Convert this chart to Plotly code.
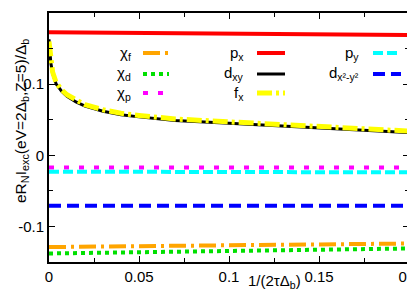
import plotly.graph_objects as go

# ---- data ----
x_curve = [0, 0.001, 0.002, 0.004, 0.007, 0.01, 0.015, 0.02, 0.03, 0.04, 0.05, 0.07, 0.1, 0.13, 0.16, 0.2]
dxy_vals = [0.163, 0.13, 0.115, 0.1, 0.09, 0.083, 0.075, 0.069, 0.062, 0.057, 0.054, 0.049, 0.045, 0.041, 0.037, 0.032]
fx_vals = [0.16, 0.132, 0.117, 0.102, 0.092, 0.085, 0.077, 0.071, 0.064, 0.059, 0.056, 0.051, 0.047, 0.043, 0.039, 0.034]
x_flat = [0, 0.2]
px_vals = [0.173, 0.169]
chi_f_vals = [-0.129, -0.124]
chi_d_vals = [-0.138, -0.131]
chi_p_vals = [-0.017, -0.017]
py_vals = [-0.023, -0.024]
dx2y2_vals = [-0.071, -0.071]

x_ticks = [0, 0.05, 0.1, 0.15, 0.2]
x_ticklabels = ["0", "0.05", "0.1", "0.15", "0.2"]
y_ticks = [-0.1, 0, 0.1, 0.2]
y_ticklabels = ["-0.1", "0", "0.1", "0.2"]

series = [
    ("χ<sub>f</sub>", "#FFA500", "17px,5px,3px,5px", 4, chi_f_vals, x_flat),
    ("χ<sub>d</sub>", "#00E000", "4px,4px", 4, chi_d_vals, x_flat),
    ("χ<sub>p</sub>", "#FF00FF", "5px,10px", 4, chi_p_vals, x_flat),
    ("p<sub>x</sub>", "#FF0000", "solid", 4, px_vals, x_flat),
    ("d<sub>xy</sub>", "#000000", "solid", 3, dxy_vals, x_curve),
    ("f<sub>x</sub>", "#FFFF00", "15px,4px,3px,4px", 5, fx_vals, x_curve),
    ("p<sub>y</sub>", "#00FFFF", "10px,4px", 4, py_vals, x_flat),
    ("d<sub>x²-y²</sub>", "#0000FF", "12px,6px", 4, dx2y2_vals, x_flat),
]

fig = go.Figure()
draw_order = [3, 0, 1, 2, 6, 7, 4, 5]
for i in draw_order:
    name, col, dash, w, yv, xv = series[i]
    fig.add_trace(go.Scatter(x=xv, y=yv, mode="lines", name=name,
                             line=dict(color=col, dash=dash, width=w),
                             showlegend=False))

L, R = 41, 401
T, B = 5, 254
def px2paper_x(p):
    return (p - L) / (R - L)
def py2paper_y(p):
    return 1 - (p - T) / (B - T)

cols = [(125, 135, 161), (238, 249, 277), (353, 365, 393)]
rows = [45, 66, 85]
positions = [(0, 0), (0, 1), (0, 2), (1, 0), (1, 1), (1, 2), (2, 0), (2, 1)]
for (name, col, dash, w, _, _), (c, r) in zip(series, positions):
    tx, s0, s1 = cols[c]
    yy = py2paper_y(rows[r])
    fig.add_annotation(x=px2paper_x(tx), y=yy, xref="paper", yref="paper",
                       text=name, showarrow=False, xanchor="right", yanchor="middle",
                       font=dict(size=15, color="black"))
    fig.add_shape(type="line", xref="paper", yref="paper",
                  x0=px2paper_x(s0), x1=px2paper_x(s1), y0=yy, y1=yy,
                  line=dict(color=col, dash=dash, width=w))

fig.add_annotation(x=px2paper_x(266), y=py2paper_y(273), xref="paper", yref="paper",
                   text="1/(2τΔ<sub>b</sub>)", showarrow=False, xanchor="center",
                   yanchor="middle", font=dict(size=15, color="black"))
fig.add_annotation(x=px2paper_x(13), y=py2paper_y(113), xref="paper", yref="paper",
                   text="eR<sub>N</sub>I<sub>exc</sub>(eV=2Δ<sub>b</sub>,Z=5)/Δ<sub>b</sub>",
                   textangle=-90, showarrow=False, xanchor="center", yanchor="middle",
                   font=dict(size=15.5, color="black"))

fig.update_layout(
    width=415, height=290,
    margin=dict(l=L, r=415 - R, t=T, b=290 - B, autoexpand=False),
    plot_bgcolor="white", paper_bgcolor="white",
    font=dict(family="Liberation Sans, Arial, sans-serif", size=15, color="black"),
)
fig.update_xaxes(range=[0, 0.2], tickvals=x_ticks, ticktext=x_ticklabels,
                 ticks="inside", ticklen=6, tickwidth=1, tickcolor="black",
                 showline=True, linecolor="black", linewidth=2, mirror="ticks",
                 showgrid=False, zeroline=False, automargin=False,
                 minor=dict(tickvals=[0.025, 0.075, 0.125, 0.175], ticks="inside",
                            ticklen=4, tickcolor="black", showgrid=False),
                 tickfont=dict(size=15))
fig.update_yaxes(range=[-0.15, 0.2], tickvals=y_ticks, ticktext=y_ticklabels,
                 ticks="inside", ticklen=6, tickwidth=1, tickcolor="black",
                 showline=True, linecolor="black", linewidth=2, mirror="ticks",
                 showgrid=False, zeroline=False, automargin=False,
                 minor=dict(tickvals=[-0.15, -0.05, 0.05, 0.15], ticks="inside",
                            ticklen=4, tickcolor="black", showgrid=False),
                 tickfont=dict(size=15))

fig.write_html("out.html")
